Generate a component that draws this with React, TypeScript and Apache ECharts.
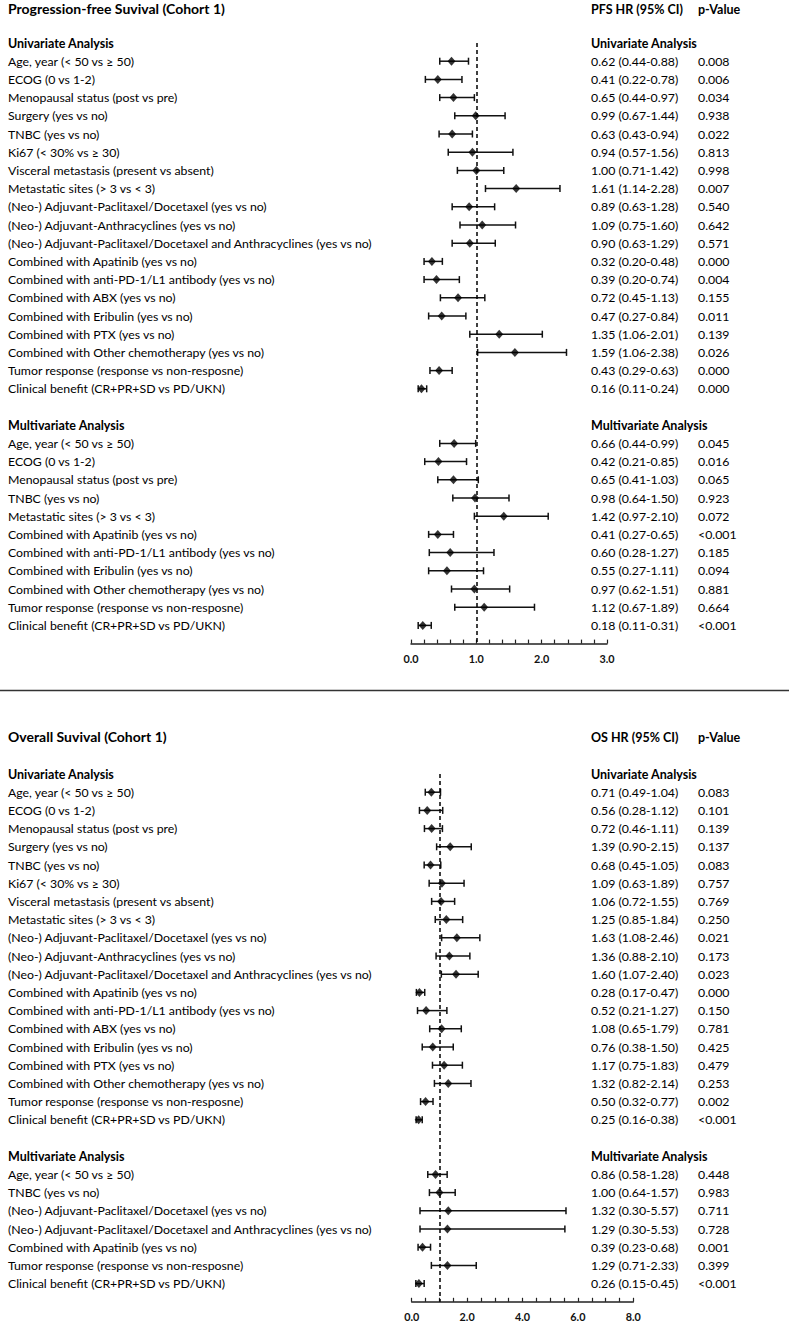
import React, { useEffect, useRef } from "react";
import * as echarts from "echarts";

const FONT = "Lato, 'Open Sans', sans-serif";

// ---------- PFS (Cohort 1) ----------
const pfsUniLabels = [
  "Age, year (< 50 vs ≥ 50)",
  "ECOG (0 vs 1-2)",
  "Menopausal status (post vs pre)",
  "Surgery (yes vs no)",
  "TNBC (yes vs no)",
  "Ki67 (< 30% vs ≥ 30)",
  "Visceral metastasis (present vs absent)",
  "Metastatic sites (> 3 vs < 3)",
  "(Neo-) Adjuvant-Paclitaxel/Docetaxel (yes vs no)",
  "(Neo-) Adjuvant-Anthracyclines (yes vs no)",
  "(Neo-) Adjuvant-Paclitaxel/Docetaxel and Anthracyclines (yes vs no)",
  "Combined with Apatinib (yes vs no)",
  "Combined with anti-PD-1/L1 antibody (yes vs no)",
  "Combined with ABX (yes vs no)",
  "Combined with Eribulin (yes vs no)",
  "Combined with PTX (yes vs no)",
  "Combined with Other chemotherapy (yes vs no)",
  "Tumor response (response vs non-resposne)",
  "Clinical benefit (CR+PR+SD vs PD/UKN)",
];
const pfsUniHR = [0.62, 0.41, 0.65, 0.99, 0.63, 0.94, 1.0, 1.61, 0.89, 1.09, 0.9, 0.32, 0.39, 0.72, 0.47, 1.35, 1.59, 0.43, 0.16];
const pfsUniLo = [0.44, 0.22, 0.44, 0.67, 0.43, 0.57, 0.71, 1.14, 0.63, 0.75, 0.63, 0.2, 0.2, 0.45, 0.27, 0.9, 1.02, 0.29, 0.11];
const pfsUniHi = [0.88, 0.78, 0.97, 1.44, 0.94, 1.56, 1.42, 2.28, 1.28, 1.6, 1.29, 0.48, 0.74, 1.13, 0.84, 2.01, 2.38, 0.63, 0.24];
const pfsUniText = [
  "0.62 (0.44-0.88)", "0.41 (0.22-0.78)", "0.65 (0.44-0.97)", "0.99 (0.67-1.44)", "0.63 (0.43-0.94)",
  "0.94 (0.57-1.56)", "1.00 (0.71-1.42)", "1.61 (1.14-2.28)", "0.89 (0.63-1.28)", "1.09 (0.75-1.60)",
  "0.90 (0.63-1.29)", "0.32 (0.20-0.48)", "0.39 (0.20-0.74)", "0.72 (0.45-1.13)", "0.47 (0.27-0.84)",
  "1.35 (1.06-2.01)", "1.59 (1.06-2.38)", "0.43 (0.29-0.63)", "0.16 (0.11-0.24)",
];
const pfsUniP = ["0.008", "0.006", "0.034", "0.938", "0.022", "0.813", "0.998", "0.007", "0.540", "0.642", "0.571", "0.000", "0.004", "0.155", "0.011", "0.139", "0.026", "0.000", "0.000"];

const pfsMulLabels = [
  "Age, year (< 50 vs ≥ 50)",
  "ECOG (0 vs 1-2)",
  "Menopausal status (post vs pre)",
  "TNBC (yes vs no)",
  "Metastatic sites (> 3 vs < 3)",
  "Combined with Apatinib (yes vs no)",
  "Combined with anti-PD-1/L1 antibody (yes vs no)",
  "Combined with Eribulin (yes vs no)",
  "Combined with Other chemotherapy (yes vs no)",
  "Tumor response (response vs non-resposne)",
  "Clinical benefit (CR+PR+SD vs PD/UKN)",
];
const pfsMulHR = [0.66, 0.42, 0.65, 0.98, 1.42, 0.41, 0.6, 0.55, 0.97, 1.12, 0.18];
const pfsMulLo = [0.44, 0.21, 0.41, 0.64, 0.97, 0.27, 0.28, 0.27, 0.62, 0.67, 0.11];
const pfsMulHi = [0.99, 0.85, 1.03, 1.5, 2.1, 0.65, 1.27, 1.11, 1.51, 1.89, 0.31];
const pfsMulText = [
  "0.66 (0.44-0.99)", "0.42 (0.21-0.85)", "0.65 (0.41-1.03)", "0.98 (0.64-1.50)", "1.42 (0.97-2.10)",
  "0.41 (0.27-0.65)", "0.60 (0.28-1.27)", "0.55 (0.27-1.11)", "0.97 (0.62-1.51)", "1.12 (0.67-1.89)",
  "0.18 (0.11-0.31)",
];
const pfsMulP = ["0.045", "0.016", "0.065", "0.923", "0.072", "<0.001", "0.185", "0.094", "0.881", "0.664", "<0.001"];

// ---------- OS (Cohort 1) ----------
const osUniLabels = pfsUniLabels.slice();
const osUniHR = [0.71, 0.56, 0.72, 1.39, 0.68, 1.09, 1.06, 1.25, 1.63, 1.36, 1.6, 0.28, 0.52, 1.08, 0.76, 1.17, 1.32, 0.5, 0.25];
const osUniLo = [0.49, 0.28, 0.46, 0.9, 0.45, 0.63, 0.72, 0.85, 1.08, 0.88, 1.07, 0.17, 0.21, 0.65, 0.38, 0.75, 0.82, 0.32, 0.16];
const osUniHi = [1.04, 1.12, 1.11, 2.15, 1.05, 1.89, 1.55, 1.84, 2.46, 2.1, 2.4, 0.47, 1.27, 1.79, 1.5, 1.83, 2.14, 0.77, 0.38];
const osUniText = [
  "0.71 (0.49-1.04)", "0.56 (0.28-1.12)", "0.72 (0.46-1.11)", "1.39 (0.90-2.15)", "0.68 (0.45-1.05)",
  "1.09 (0.63-1.89)", "1.06 (0.72-1.55)", "1.25 (0.85-1.84)", "1.63 (1.08-2.46)", "1.36 (0.88-2.10)",
  "1.60 (1.07-2.40)", "0.28 (0.17-0.47)", "0.52 (0.21-1.27)", "1.08 (0.65-1.79)", "0.76 (0.38-1.50)",
  "1.17 (0.75-1.83)", "1.32 (0.82-2.14)", "0.50 (0.32-0.77)", "0.25 (0.16-0.38)",
];
const osUniP = ["0.083", "0.101", "0.139", "0.137", "0.083", "0.757", "0.769", "0.250", "0.021", "0.173", "0.023", "0.000", "0.150", "0.781", "0.425", "0.479", "0.253", "0.002", "<0.001"];

const osMulLabels = [
  "Age, year (< 50 vs ≥ 50)",
  "TNBC (yes vs no)",
  "(Neo-) Adjuvant-Paclitaxel/Docetaxel (yes vs no)",
  "(Neo-) Adjuvant-Paclitaxel/Docetaxel and Anthracyclines (yes vs no)",
  "Combined with Apatinib (yes vs no)",
  "Tumor response (response vs non-resposne)",
  "Clinical benefit (CR+PR+SD vs PD/UKN)",
];
const osMulHR = [0.86, 1.0, 1.32, 1.29, 0.39, 1.29, 0.26];
const osMulLo = [0.58, 0.64, 0.3, 0.3, 0.23, 0.71, 0.15];
const osMulHi = [1.28, 1.57, 5.57, 5.53, 0.68, 2.33, 0.45];
const osMulText = ["0.86 (0.58-1.28)", "1.00 (0.64-1.57)", "1.32 (0.30-5.57)", "1.29 (0.30-5.53)", "0.39 (0.23-0.68)", "1.29 (0.71-2.33)", "0.26 (0.15-0.45)"];
const osMulP = ["0.448", "0.983", "0.711", "0.728", "0.001", "0.399", "<0.001"];

type Row = { label: string; bold: boolean; text: string; p: string; hr?: number; lo?: number; hi?: number };

function buildRows(
  uL: string[], uHR: number[], uLo: number[], uHi: number[], uT: string[], uP: string[],
  mL: string[], mHR: number[], mLo: number[], mHi: number[], mT: string[], mP: string[]
): Row[] {
  const rows: Row[] = [];
  rows.push({ label: "Univariate Analysis", bold: true, text: "Univariate Analysis", p: "" });
  uL.forEach((l, i) => rows.push({ label: l, bold: false, text: uT[i], p: uP[i], hr: uHR[i], lo: uLo[i], hi: uHi[i] }));
  rows.push({ label: "", bold: false, text: "", p: "" });
  rows.push({ label: "Multivariate Analysis", bold: true, text: "Multivariate Analysis", p: "" });
  mL.forEach((l, i) => rows.push({ label: l, bold: false, text: mT[i], p: mP[i], hr: mHR[i], lo: mLo[i], hi: mHi[i] }));
  rows.push({ label: "", bold: false, text: "", p: "" });
  return rows;
}

const ROW_H = 18.2;
const TEXT_X = 8;
const HR_X = 591;
const P_X = 698;
const FS = 12.3;

function panel(rows: Row[], gi: number, left: number, right: number, top: number, xMax: number, interval: number, minorSplit: number) {
  const grid = { left, top, width: right - left, height: (rows.length - 1) * ROW_H, containLabel: false };
  const xAxis = {
    type: "value", gridIndex: gi, min: 0, max: xMax, interval,
    axisLine: { show: true, onZero: false, lineStyle: { color: "#222", width: 1.5 } },
    axisTick: { show: true, inside: true, length: 4, lineStyle: { color: "#222", width: 1.2 } },
    minorTick: { show: true, splitNumber: minorSplit, length: 4, lineStyle: { color: "#222", width: 1.2 } },
    splitLine: { show: false },
    minorSplitLine: { show: false },
    axisLabel: { formatter: (v: number) => v.toFixed(1), fontFamily: FONT, fontWeight: "bold", fontSize: 10.8, color: "#111", margin: 9 },
  };
  const yLeft = {
    type: "category", gridIndex: gi, inverse: true, boundaryGap: false,
    data: rows.map((r) => r.label),
    axisLine: { show: false }, axisTick: { show: false }, splitLine: { show: false },
    axisLabel: {
      interval: 0, align: "left", margin: left - TEXT_X, hideOverlap: false,
      formatter: (v: string, i: number) => (rows[i].label === "" ? "" : rows[i].bold ? `{b|${v}}` : `{n|${v}}`),
      rich: {
        b: { fontFamily: FONT, fontWeight: "bold", fontSize: 12.5, color: "#000" },
        n: { fontFamily: FONT, fontSize: FS, color: "#000" },
      },
    },
  };
  const yRight = {
    type: "category", gridIndex: gi, inverse: true, boundaryGap: false, position: "right",
    offset: HR_X - right,
    data: rows.map((_, i) => String(i)),
    axisLine: { show: false }, axisTick: { show: false }, splitLine: { show: false },
    axisLabel: {
      interval: 0, align: "left", margin: 0, hideOverlap: false,
      formatter: (_v: string, i: number) => {
        const r = rows[i];
        if (r.text === "") return "";
        if (r.bold) return `{b|${r.text}}`;
        return `{h|${r.text}}{p|${r.p}}`;
      },
      rich: {
        b: { fontFamily: FONT, fontWeight: "bold", fontSize: 12.5, color: "#000" },
        h: { fontFamily: FONT, fontSize: FS, color: "#000", width: P_X - HR_X },
        p: { fontFamily: FONT, fontSize: FS, color: "#000" },
      },
    },
  };
  return { grid, xAxis, yLeft, yRight };
}

function seriesFor(rows: Row[], xi: number, yi: number) {
  const pts: number[][] = [];
  rows.forEach((r, i) => {
    if (r.hr !== undefined) pts.push([r.hr, i, r.lo as number, r.hi as number]);
  });
  const bars = {
    type: "custom", xAxisIndex: xi, yAxisIndex: yi, silent: true,
    data: pts, encode: { x: [0, 2, 3], y: 1 },
    renderItem: (_p: any, api: any) => {
      const y = api.value(1);
      const a = api.coord([api.value(2), y]);
      const b = api.coord([api.value(3), y]);
      const c = 3.5;
      const st = { stroke: "#111", lineWidth: 1.5 };
      return {
        type: "group",
        children: [
          { type: "line", shape: { x1: a[0], y1: a[1], x2: b[0], y2: b[1] }, style: st },
          { type: "line", shape: { x1: a[0], y1: a[1] - c, x2: a[0], y2: a[1] + c }, style: st },
          { type: "line", shape: { x1: b[0], y1: b[1] - c, x2: b[0], y2: b[1] + c }, style: st },
        ],
      };
    },
    z: 2,
  };
  const dots = {
    type: "scatter", xAxisIndex: xi, yAxisIndex: yi, silent: true,
    symbol: "diamond", symbolSize: [8, 9],
    itemStyle: { color: "#000" },
    data: pts.map((p) => [p[0], p[1]]),
    markLine: {
      silent: true, symbol: ["none", "none"], label: { show: false },
      lineStyle: { type: [4, 3], color: "#000", width: 1.5 },
      data: [{ xAxis: 1 }],
    },
    z: 3,
  };
  return [bars, dots];
}

export default function App() {
  const ref = useRef<HTMLDivElement>(null);
  useEffect(() => {
    if (!ref.current) return;
    const chart = echarts.init(ref.current, undefined, { renderer: "svg" });
    const pfsRows = buildRows(pfsUniLabels, pfsUniHR, pfsUniLo, pfsUniHi, pfsUniText, pfsUniP, pfsMulLabels, pfsMulHR, pfsMulLo, pfsMulHi, pfsMulText, pfsMulP);
    const osRows = buildRows(osUniLabels, osUniHR, osUniLo, osUniHi, osUniText, osUniP, osMulLabels, osMulHR, osMulLo, osMulHi, osMulText, osMulP);
    const pfs = panel(pfsRows, 0, 411, 607, 43, 3, 1, 5);
    const os = panel(osRows, 1, 411.7, 633.3, 774, 8, 2, 4);
    const titleStyle = { fontFamily: FONT, fontWeight: "bold", fontSize: 14, color: "#000" };
    const headStyle = { fontFamily: FONT, fontWeight: "bold", fontSize: 12.5, color: "#000" };
    chart.setOption({
      animation: false,
      backgroundColor: "#fff",
      title: [
        { text: "Progression-free Suvival (Cohort 1)", left: TEXT_X, top: 1, padding: 0, textStyle: titleStyle },
        { text: "PFS HR (95% CI)", left: HR_X, top: 3, padding: 0, textStyle: headStyle },
        { text: "p-Value", left: P_X, top: 3, padding: 0, textStyle: headStyle },
        { text: "Overall Suvival (Cohort 1)", left: TEXT_X, top: 729, padding: 0, textStyle: titleStyle },
        { text: "OS HR (95% CI)", left: HR_X, top: 731, padding: 0, textStyle: headStyle },
        { text: "p-Value", left: P_X, top: 731, padding: 0, textStyle: headStyle },
      ],
      grid: [pfs.grid, os.grid],
      xAxis: [pfs.xAxis, os.xAxis],
      yAxis: [pfs.yLeft, pfs.yRight, os.yLeft, os.yRight],
      series: [...seriesFor(pfsRows, 0, 0), ...seriesFor(osRows, 1, 2)],
      graphic: [
        { type: "line", shape: { x1: 0, y1: 690.5, x2: 789, y2: 690.5 }, style: { stroke: "#333", lineWidth: 1.6 } },
      ],
    });
    return () => chart.dispose();
  }, []);
  return <div ref={ref} style={{ position: "absolute", left: 0, top: 0, width: 789, height: 1322 }} />;
}
